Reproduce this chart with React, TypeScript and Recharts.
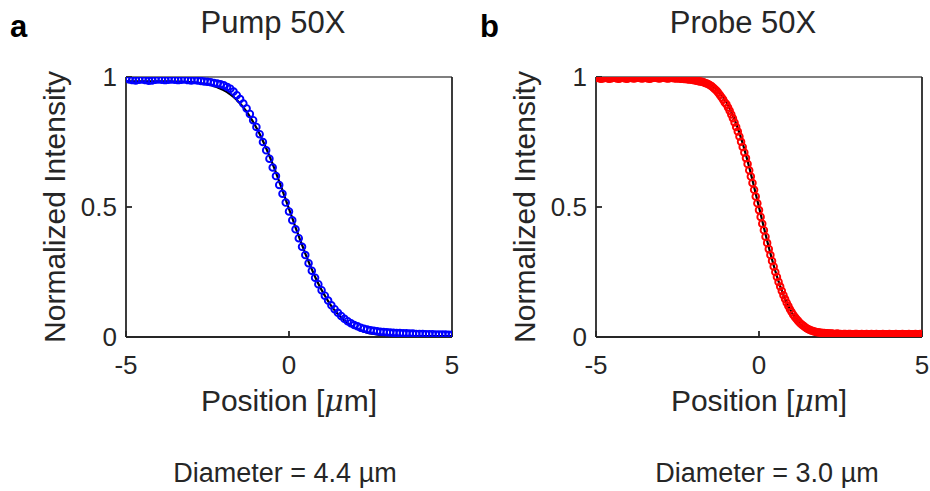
import { ComposedChart, Scatter, Line, XAxis, YAxis } from 'recharts';

// sample grid: scans start at -5 µm
const X_START = -5;
const PUMP_STEP = 0.1;
const PROBE_STEP = 0.05;
const FIT_STEP = 0.1;

// pump beam knife-edge scan (0.1 µm steps)
const pumpMeasured = [
  0.995, 0.99, 0.988, 0.987, 0.989, 0.99, 0.988, 0.986, 0.987, 0.989,
  0.99, 0.989, 0.988, 0.989, 0.99, 0.989, 0.988, 0.989, 0.99, 0.988,
  0.987, 0.988, 0.987, 0.985, 0.983, 0.982, 0.98, 0.977, 0.975, 0.972,
  0.968, 0.962, 0.955, 0.944, 0.93, 0.915, 0.898, 0.879, 0.858, 0.834,
  0.808, 0.78, 0.75, 0.718, 0.686, 0.652, 0.619, 0.585, 0.551, 0.517,
  0.483, 0.449, 0.414, 0.38, 0.347, 0.315, 0.284, 0.255, 0.228, 0.203,
  0.18, 0.159, 0.14, 0.122, 0.107, 0.093, 0.081, 0.07, 0.061, 0.053,
  0.046, 0.041, 0.036, 0.032, 0.029, 0.026, 0.024, 0.022, 0.02, 0.019,
  0.018, 0.017, 0.016, 0.015, 0.015, 0.014, 0.014, 0.013, 0.013, 0.012,
  0.012, 0.012, 0.011, 0.011, 0.011, 0.01, 0.01, 0.01, 0.01, 0.009,
  0.009,
];

const pumpFit = [
  0.983, 0.983, 0.983, 0.983, 0.983, 0.983, 0.983, 0.983, 0.983, 0.983,
  0.983, 0.983, 0.983, 0.983, 0.983, 0.982, 0.982, 0.982, 0.981, 0.981,
  0.98, 0.979, 0.978, 0.976, 0.974, 0.972, 0.969, 0.965, 0.961, 0.955,
  0.949, 0.942, 0.933, 0.923, 0.911, 0.898, 0.883, 0.867, 0.848, 0.827,
  0.805, 0.781, 0.754, 0.726, 0.696, 0.665, 0.632, 0.598, 0.564, 0.528,
  0.493, 0.458, 0.422, 0.388, 0.354, 0.321, 0.29, 0.26, 0.232, 0.205,
  0.181, 0.159, 0.138, 0.119, 0.103, 0.088, 0.075, 0.063, 0.053, 0.044,
  0.037, 0.031, 0.025, 0.021, 0.017, 0.014, 0.012, 0.01, 0.008, 0.007,
  0.006, 0.005, 0.005, 0.004, 0.004, 0.003, 0.003, 0.003, 0.003, 0.003,
  0.003, 0.003, 0.003, 0.003, 0.003, 0.003, 0.003, 0.003, 0.003, 0.003,
  0.003,
];

// probe beam knife-edge scan (0.05 µm steps)
const probeMeasured = [
  0.996, 0.997, 0.995, 0.993, 0.994, 0.996, 0.997, 0.995, 0.993, 0.994,
  0.996, 0.998, 0.996, 0.994, 0.993, 0.995, 0.997, 0.996, 0.994, 0.993,
  0.995, 0.997, 0.996, 0.994, 0.995, 0.997, 0.998, 0.996, 0.994, 0.995,
  0.997, 0.996, 0.994, 0.993, 0.995, 0.997, 0.998, 0.997, 0.995, 0.994,
  0.996, 0.998, 0.997, 0.995, 0.994, 0.995, 0.997, 0.996, 0.995, 0.994,
  0.995, 0.994, 0.993, 0.993, 0.992, 0.992, 0.991, 0.99, 0.99, 0.989,
  0.988, 0.987, 0.986, 0.984, 0.983, 0.982, 0.98, 0.977, 0.975, 0.972,
  0.968, 0.964, 0.959, 0.953, 0.947, 0.939, 0.931, 0.922, 0.913, 0.902,
  0.895, 0.883, 0.87, 0.856, 0.841, 0.825, 0.808, 0.79, 0.771, 0.751,
  0.731, 0.71, 0.688, 0.665, 0.641, 0.617, 0.592, 0.566, 0.54, 0.514,
  0.488, 0.462, 0.436, 0.411, 0.386, 0.362, 0.338, 0.315, 0.292, 0.271,
  0.25, 0.231, 0.212, 0.194, 0.177, 0.161, 0.146, 0.132, 0.119, 0.107,
  0.096, 0.086, 0.077, 0.069, 0.062, 0.055, 0.049, 0.044, 0.039, 0.035,
  0.031, 0.028, 0.025, 0.023, 0.021, 0.019, 0.018, 0.017, 0.016, 0.015,
  0.015, 0.014, 0.014, 0.013, 0.013, 0.013, 0.012, 0.012, 0.013, 0.012,
  0.012, 0.011, 0.012, 0.012, 0.011, 0.012, 0.012, 0.011, 0.011, 0.012,
  0.012, 0.011, 0.011, 0.012, 0.011, 0.011, 0.012, 0.011, 0.011, 0.012,
  0.011, 0.011, 0.012, 0.011, 0.011, 0.011, 0.012, 0.011, 0.011, 0.011,
  0.012, 0.011, 0.011, 0.011, 0.012, 0.011, 0.011, 0.011, 0.012, 0.011,
  0.011, 0.011, 0.012, 0.011, 0.011, 0.011, 0.012, 0.011, 0.011, 0.012,
  0.012,
];

const probeFit = [
  0.993, 0.993, 0.993, 0.993, 0.993, 0.993, 0.993, 0.993, 0.993, 0.993,
  0.993, 0.993, 0.993, 0.993, 0.993, 0.993, 0.993, 0.993, 0.993, 0.993,
  0.993, 0.993, 0.993, 0.993, 0.993, 0.993, 0.992, 0.992, 0.991, 0.99,
  0.989, 0.987, 0.985, 0.981, 0.977, 0.97, 0.962, 0.952, 0.939, 0.922,
  0.903, 0.879, 0.852, 0.82, 0.784, 0.744, 0.7, 0.653, 0.603, 0.551,
  0.499, 0.447, 0.395, 0.345, 0.298, 0.254, 0.214, 0.178, 0.146, 0.119,
  0.095, 0.076, 0.059, 0.046, 0.036, 0.028, 0.021, 0.017, 0.013, 0.011,
  0.009, 0.008, 0.007, 0.006, 0.006, 0.005, 0.005, 0.005, 0.005, 0.005,
  0.005, 0.005, 0.005, 0.005, 0.005, 0.005, 0.005, 0.005, 0.005, 0.005,
  0.005, 0.005, 0.005, 0.005, 0.005, 0.005, 0.005, 0.005, 0.005, 0.005,
  0.005,
];

const xTicks = [-5, 0, 5];
const yTicks = [0, 0.5, 1];

const FONT = '"Liberation Sans", Arial, Helvetica, sans-serif';
const INK = '#262626';

type Pt = { x: number; y: number };

const toPoints = (vals: number[], step: number): Pt[] =>
  vals.map((v, i) => ({ x: +(X_START + i * step).toFixed(2), y: v }));

const ringShape = (color: string) => (p: any) =>
  <circle cx={p.cx} cy={p.cy} r={3.3} fill="none" stroke={color} strokeWidth={1.9} />;

const tickFont = { fontSize: 26, fill: INK, fontFamily: FONT };

function EdgeScan({ measured, fit, color }: { measured: Pt[]; fit: Pt[]; color: string }) {
  return (
    <ComposedChart width={460} height={400} margin={{ top: 75, right: 6, bottom: 33, left: 66 }}>
      <XAxis xAxisId="b" dataKey="x" type="number" domain={[-5, 5]} ticks={xTicks} allowDataOverflow
        orientation="bottom" height={30} tickSize={-6} tickMargin={25} tick={tickFont}
        stroke={INK} strokeWidth={1.8} />
      <XAxis xAxisId="t" dataKey="x" type="number" domain={[-5, 5]} ticks={xTicks} allowDataOverflow
        orientation="top" height={2} tickSize={-6} tick={false} stroke="#555" strokeWidth={1.4} />
      <YAxis yAxisId="l" dataKey="y" type="number" domain={[0, 1]} ticks={yTicks} allowDataOverflow
        width={60} tickSize={-6} tickMargin={15} tick={tickFont} stroke={INK} strokeWidth={1.8} />
      <YAxis yAxisId="r" dataKey="y" type="number" domain={[0, 1]} ticks={yTicks} allowDataOverflow
        orientation="right" width={2} tickSize={-6} tick={false} stroke={INK} strokeWidth={1.8} />
      <Scatter xAxisId="b" yAxisId="l" data={measured} dataKey="y" shape={ringShape(color)}
        isAnimationActive={false} />
      <Line xAxisId="b" yAxisId="l" data={fit} dataKey="y" type="monotone" stroke="#000"
        strokeWidth={2.2} dot={false} activeDot={false} isAnimationActive={false} />
    </ComposedChart>
  );
}

function Labels({ cx, letter, title, diameter, dx }: {
  cx: number; letter: string; title: string; diameter: string; dx: number;
}) {
  const left = cx - 163;
  return (
    <g fontFamily={FONT} fill={INK}>
      <text x={left - 116} y={37} fontSize={31} fontWeight="bold" fill="#000">{letter}</text>
      <text x={cx - 16} y={33} fontSize={31} textAnchor="middle">{title}</text>
      <text transform={`translate(${left - 61},207) rotate(-90)`} fontSize={30} textAnchor="middle">
        Normalized Intensity
      </text>
      <text x={cx} y={411} fontSize={30} textAnchor="middle">
        Position [<tspan fontStyle="italic" fontFamily='"DejaVu Serif", serif'>μ</tspan>m]
      </text>
      <text x={cx + dx} y={482} fontSize={27} textAnchor="middle">{diameter}</text>
    </g>
  );
}

export default function App() {
  const pumpPts = toPoints(pumpMeasured, PUMP_STEP);
  const pumpLine = toPoints(pumpFit, FIT_STEP);
  const probePts = toPoints(probeMeasured, PROBE_STEP);
  const probeLine = toPoints(probeFit, FIT_STEP);
  return (
    <div style={{ position: 'absolute', left: 0, top: 0, width: 930, height: 491, background: '#fff', overflow: 'hidden' }}>
      <svg width={930} height={491} style={{ position: 'absolute', left: 0, top: 0 }}>
        <Labels cx={289} letter="a" title="Pump 50X" diameter="Diameter = 4.4 µm" dx={-4} />
        <Labels cx={759} letter="b" title="Probe 50X" diameter="Diameter = 3.0 µm" dx={8} />
      </svg>
      <div style={{ position: 'absolute', left: 0, top: 0 }}>
        <EdgeScan measured={pumpPts} fit={pumpLine} color="#0000ff" />
      </div>
      <div style={{ position: 'absolute', left: 470, top: 0 }}>
        <EdgeScan measured={probePts} fit={probeLine} color="#ff0000" />
      </div>
    </div>
  );
}
